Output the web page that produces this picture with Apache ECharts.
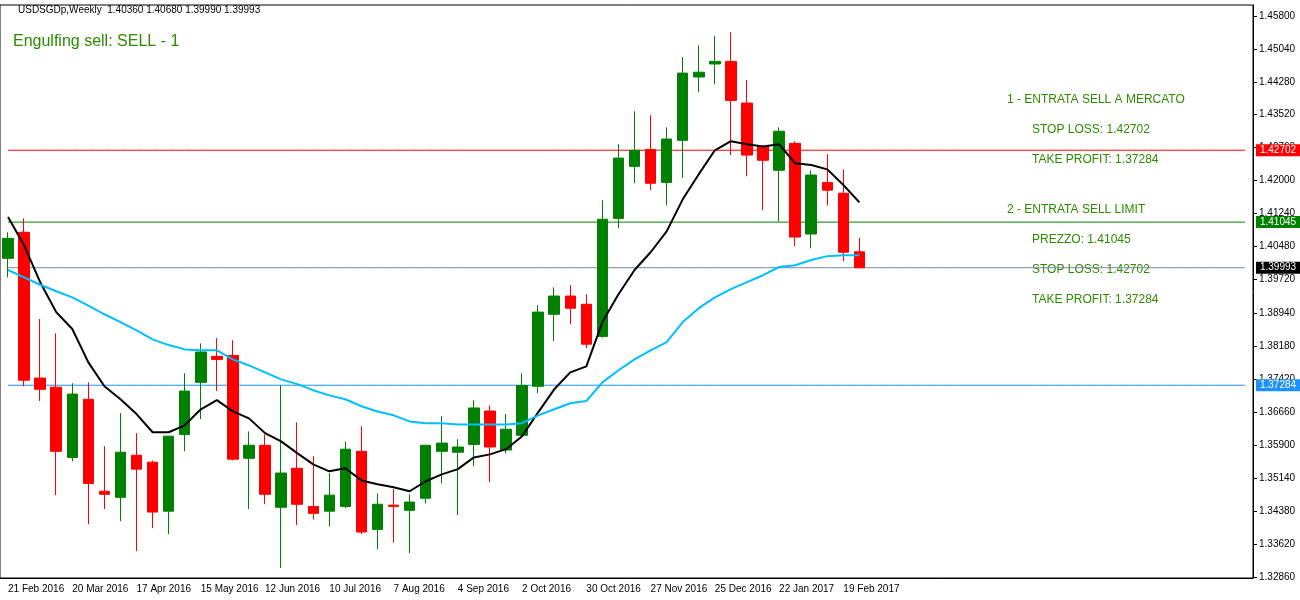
<!DOCTYPE html>
<html>
<head>
<meta charset="utf-8">
<title>USDSGDp Weekly</title>
<script src="https://cdn.jsdelivr.net/npm/echarts@6/dist/echarts.min.js"></script>
</head>
<body style="margin:0;background:#fff">
<div id="main" style="width:1300px;height:600px"></div>
<script>
// weekly candles from 21 Feb 2016, [open, close, low, high]
var opens  = [1.4021,1.4081,1.3745,1.3724,1.3562,1.3696,1.3484,1.3470,1.3567,1.3551,
              1.3438,1.3615,1.3735,1.3795,1.3797,1.3560,1.3590,1.3447,1.3537,1.3449,
              1.3438,1.3449,1.3576,1.3396,1.3452,1.3440,1.3468,1.3576,1.3574,1.3592,
              1.3669,1.3579,1.3613,1.3726,1.3892,1.3934,1.3915,1.3841,1.4113,1.4233,
              1.4272,1.4196,1.4293,1.4439,1.4469,1.4475,1.4379,1.4279,1.4224,1.4286,
              1.4077,1.4196,1.4171,1.4036];
var closes = [1.4067,1.3740,1.3719,1.3576,1.3708,1.3502,1.3477,1.3574,1.3535,1.3436,
              1.3611,1.3715,1.3805,1.3788,1.3558,1.3590,1.3477,1.3526,1.3454,1.3433,
              1.3475,1.3581,1.3390,1.3454,1.3449,1.3459,1.3590,1.3595,1.3586,1.3676,
              1.3586,1.3627,1.3728,1.3897,1.3934,1.3906,1.3823,1.4111,1.4252,1.4270,
              1.4194,1.4296,1.4448,1.4450,1.4475,1.4385,1.4259,1.4247,1.4314,1.4070,
              1.4213,1.4178,1.4035,1.39993];
var highs  = [1.4081,1.4113,1.3881,1.3848,1.3733,1.3735,1.3588,1.3664,1.3618,1.3555,
              1.3611,1.3756,1.3825,1.3837,1.3832,1.3622,1.3615,1.3728,1.3643,1.3565,
              1.3526,1.3599,1.3634,1.3479,1.3489,1.3477,1.3590,1.3657,1.3604,1.3694,
              1.3682,1.3662,1.3756,1.3913,1.3954,1.3959,1.3938,1.4155,1.4284,1.4360,
              1.4351,1.4323,1.4485,1.4512,1.4533,1.4542,1.4432,1.4282,1.4323,1.4291,
              1.4224,1.4261,1.4226,1.4068];
var lows   = [1.3977,1.3726,1.3692,1.3475,1.3553,1.3408,1.3443,1.3415,1.3346,1.3399,
              1.3385,1.3576,1.3650,1.3715,1.3555,1.3443,1.3454,1.3307,1.3406,1.3419,
              1.3403,1.3445,1.3385,1.3350,1.3366,1.3341,1.3456,1.3502,1.3429,1.3542,
              1.3505,1.3572,1.3610,1.3710,1.3830,1.3869,1.3814,1.3838,1.4090,1.4194,
              1.4178,1.4143,1.4206,1.4404,1.4422,1.4259,1.4210,1.4132,1.4106,1.4049,
              1.4044,1.4143,1.4014,1.3999];
var maFast = [1.4116,1.4051,1.3966,1.3897,1.3858,1.3781,1.3726,1.3696,1.3662,1.3620,
              1.3620,1.3636,1.3673,1.3694,1.3668,1.3652,1.3618,1.3599,1.3572,1.3546,
              1.3530,1.3537,1.3509,1.3500,1.3493,1.3484,1.3507,1.3523,1.3535,1.3562,
              1.3569,1.3581,1.3611,1.3666,1.3719,1.3758,1.3772,1.3874,1.3938,1.3994,
              1.4035,1.4083,1.4157,1.4215,1.4270,1.4291,1.4284,1.4279,1.4284,1.4240,
              1.4236,1.4226,1.4190,1.4150];
var maSlow = [1.3994,1.3977,1.3960,1.3945,1.3931,1.3912,1.3892,1.3874,1.3855,1.3834,
              1.3821,1.3811,1.3809,1.3809,1.3788,1.3774,1.3758,1.3742,1.3731,1.3717,
              1.3705,1.3696,1.3680,1.3668,1.3659,1.3645,1.3641,1.3641,1.3638,1.3638,
              1.3638,1.3638,1.3641,1.3659,1.3673,1.3687,1.3692,1.3735,1.3763,1.3788,
              1.3809,1.3828,1.3874,1.3906,1.3931,1.3950,1.3966,1.3982,1.4001,1.4005,
              1.4017,1.4026,1.4028,1.4028];
var priceTicks = [1.45800,1.45040,1.44280,1.43520,1.42760,1.42000,1.41240,1.40480,1.39720,
                  1.38940,1.38180,1.37420,1.36660,1.35900,1.35140,1.34380,1.33620,1.32860];
var levels = [
    {value: 1.42702, color: '#ff0000'},
    {value: 1.41045, color: '#008000'},
    {value: 1.39993, color: '#000000', line: '#778899'},
    {value: 1.37284, color: '#1e90ff'}
];
var notes = [
    ['1 - ENTRATA SELL A MERCATO', 1007, 101],
    ['STOP LOSS: 1.42702', 1032, 131],
    ['TAKE PROFIT: 1.37284', 1032, 161],
    ['2 - ENTRATA SELL LIMIT', 1007, 211],
    ['PREZZO: 1.41045', 1032, 241],
    ['STOP LOSS: 1.42702', 1032, 271],
    ['TAKE PROFIT: 1.37284', 1032, 301]
];
var SLOTS = 78;
var MONTHS = ['Jan','Feb','Mar','Apr','May','Jun','Jul','Aug','Sep','Oct','Nov','Dec'];

var dates = [];
var start = Date.UTC(2016, 1, 21);
for (var i = 0; i < SLOTS; i++) {
    var d = new Date(start + i * 7 * 86400000);
    dates.push(d.getUTCDate() + ' ' + MONTHS[d.getUTCMonth()] + ' ' + d.getUTCFullYear());
}
var candles = opens.map(function (o, i) {
    return [o, closes[i], lows[i], highs[i]];
});

var myChart = echarts.init(document.getElementById('main'));

var graphics = [
    {type: 'text', left: 18, top: 5, style: {text: 'USDSGDp,Weekly  1.40360 1.40680 1.39990 1.39993',
        fill: '#000', font: '10px "Liberation Sans"'}},
    {type: 'text', left: 13, top: 34, style: {text: 'Engulfing sell: SELL - 1',
        fill: '#2e8b00', font: '16px "Liberation Sans"'}}
];
notes.forEach(function (n) {
    graphics.push({type: 'text', left: n[1], top: n[2] - 7,
        style: {text: n[0], fill: '#2e8b00', font: '12px "Liberation Sans"'}});
});

// horizontal price levels as flat line series
var levelSeries = levels.map(function (l) {
    return {
        type: 'line',
        data: dates.map(function () { return l.value; }),
        symbol: 'none',
        silent: true,
        z: 1,
        lineStyle: {color: l.line || l.color, width: 1},
        endLabel: {
            show: true,
            distance: 11,
            formatter: l.value.toFixed(5),
            color: '#fff', backgroundColor: l.color,
            padding: [1, 4], fontSize: 10, fontFamily: 'Liberation Sans'
        }
    };
});

myChart.setOption({
    animation: false,
    backgroundColor: '#fff',
    grid: {left: 0, right: 47, top: 5, bottom: 22, show: true, borderColor: '#000', borderWidth: 1},
    graphic: graphics,
    xAxis: {
        type: 'category',
        data: dates,
        boundaryGap: true,
        axisLine: {lineStyle: {color: '#000'}},
        axisTick: {
            alignWithLabel: true,
            interval: function (i) { return i % 4 === 0 && i < 54; },
            lineStyle: {color: '#000'}
        },
        axisLabel: {
            interval: function (i) { return i % 4 === 0 && i < 54; },
            align: 'left',
            margin: 6,
            color: '#000',
            fontSize: 10,
            fontFamily: 'Liberation Sans'
        },
        splitLine: {show: false}
    },
    yAxis: {
        type: 'value',
        position: 'right',
        min: 1.3284,
        max: 1.4605,
        axisLine: {show: true, lineStyle: {color: '#000'}},
        axisTick: {show: true, customValues: priceTicks, length: 4, lineStyle: {color: '#000'}},
        axisLabel: {
            customValues: priceTicks,
            color: '#000',
            fontSize: 10,
            fontFamily: 'Liberation Sans',
            margin: 6,
            formatter: function (v) { return v.toFixed(5); }
        },
        splitLine: {show: false}
    },
    series: levelSeries.concat([
        {
            type: 'candlestick',
            data: candles,
            barWidth: 11,
            z: 2,
            itemStyle: {
                color: '#008000', color0: '#ff0000',
                borderColor: '#008000', borderColor0: '#ff0000', borderWidth: 1
            }
        },
        {
            type: 'line', data: maFast, symbol: 'none',
            lineStyle: {color: '#000', width: 2}, z: 3
        },
        {
            type: 'line', data: maSlow, symbol: 'none',
            lineStyle: {color: '#00bfff', width: 2}, z: 3
        }
    ])
});
</script>
</body>
</html>
